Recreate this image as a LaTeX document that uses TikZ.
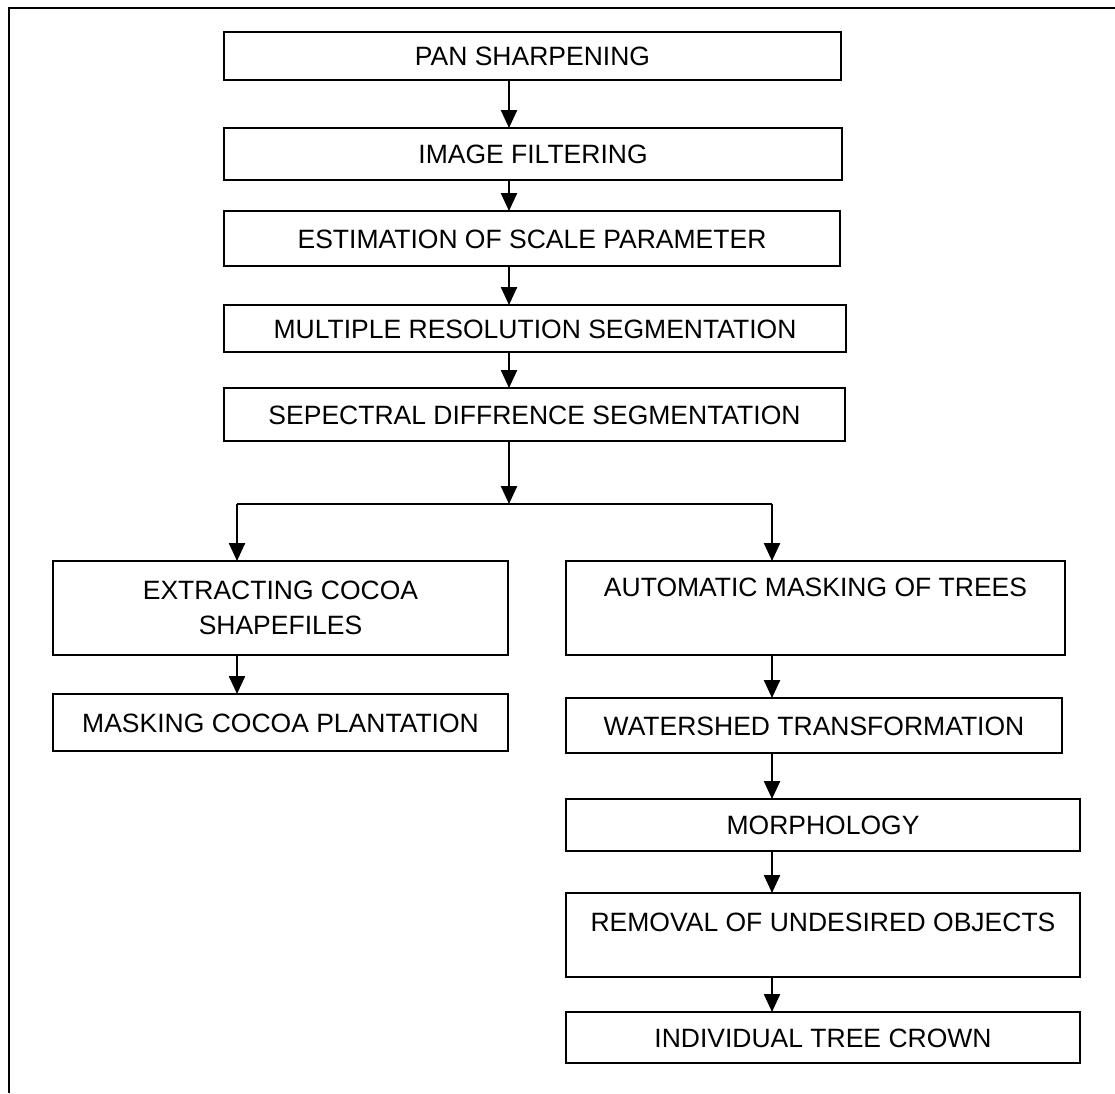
\documentclass[tikz,border=0pt]{standalone}
\usepackage{fontspec}
\setmainfont{Liberation Sans}
\usetikzlibrary{arrows.meta}
\newcommand{\boxfont}{\fontsize{26.5}{35}\selectfont}
\begin{document}
\begin{tikzpicture}[x=1pt,y=-1pt,
  procbox/.style={draw, line width=2.4pt, inner sep=0pt, outer sep=0pt,
    font=\boxfont, align=center},
  oneline/.style={procbox, text height=19pt, text depth=0pt},
  flow/.style={line width=2.4pt, -{Triangle[length=18pt,width=16pt]}},
  link/.style={line width=2.4pt}]
\useasboundingbox (0,0) rectangle (1115,1093);

% outer frame (top and left edges)
\draw[line width=2.4pt] (9,1093) -- (9,8) -- (1115,8);

% main column
\node[oneline, minimum width=617pt, minimum height=48pt] (b1) at (532.5,56) {PAN SHARPENING};
\node[oneline, minimum width=618pt, minimum height=52pt] (b2) at (533,154) {IMAGE FILTERING};
\node[oneline, minimum width=616pt, minimum height=55pt] (b3) at (532,238.5) {ESTIMATION OF SCALE PARAMETER};
\node[oneline, minimum width=622pt, minimum height=47pt] (b4) at (535,328.5) {MULTIPLE RESOLUTION SEGMENTATION};
\node[oneline, minimum width=621pt, minimum height=53pt] (b5) at (534.5,414.5) {SEPECTRAL DIFFRENCE SEGMENTATION};

% left branch
\node[procbox, minimum width=455pt, minimum height=94pt] (l1) at (280.5,608) {EXTRACTING COCOA\\SHAPEFILES};
\node[oneline, minimum width=455pt, minimum height=57pt] (l2) at (280.5,722.5) {MASKING COCOA PLANTATION};

% right branch
\node[oneline, text depth=42pt, minimum width=499pt, minimum height=94pt] (r1) at (815.5,608) {AUTOMATIC MASKING OF TREES};
\node[oneline, minimum width=496pt, minimum height=55pt] (r2) at (814,725.5) {WATERSHED TRANSFORMATION};
\node[oneline, minimum width=514pt, minimum height=52pt] (r3) at (823,825) {MORPHOLOGY};
\node[oneline, text depth=26pt, minimum width=514pt, minimum height=84pt] (r4) at (823,935) {REMOVAL OF UNDESIRED OBJECTS};
\node[oneline, minimum width=514pt, minimum height=51pt] (r5) at (823,1037.5) {INDIVIDUAL TREE CROWN};

% arrow columns and branching points
\coordinate (cx) at (509,0);
\coordinate (lx) at (237,0);
\coordinate (rx) at (772,0);
\coordinate (split) at (509,504);
\coordinate (splitL) at (237,504);
\coordinate (splitR) at (772,504);

\draw[flow] (b1.south -| cx) -- (b2.north -| cx);
\draw[flow] (b2.south -| cx) -- (b3.north -| cx);
\draw[flow] (b3.south -| cx) -- (b4.north -| cx);
\draw[flow] (b4.south -| cx) -- (b5.north -| cx);
\draw[flow] (b5.south -| cx) -- (split);
\draw[link] (splitL) -- (splitR);
\draw[flow] (splitL) -- (l1.north -| lx);
\draw[flow] (splitR) -- (r1.north -| rx);

\draw[flow] (l1.south -| lx) -- (l2.north -| lx);

\draw[flow] (r1.south -| rx) -- (r2.north -| rx);
\draw[flow] (r2.south -| rx) -- (r3.north -| rx);
\draw[flow] (r3.south -| rx) -- (r4.north -| rx);
\draw[flow] (r4.south -| rx) -- (r5.north -| rx);
\end{tikzpicture}
\end{document}
